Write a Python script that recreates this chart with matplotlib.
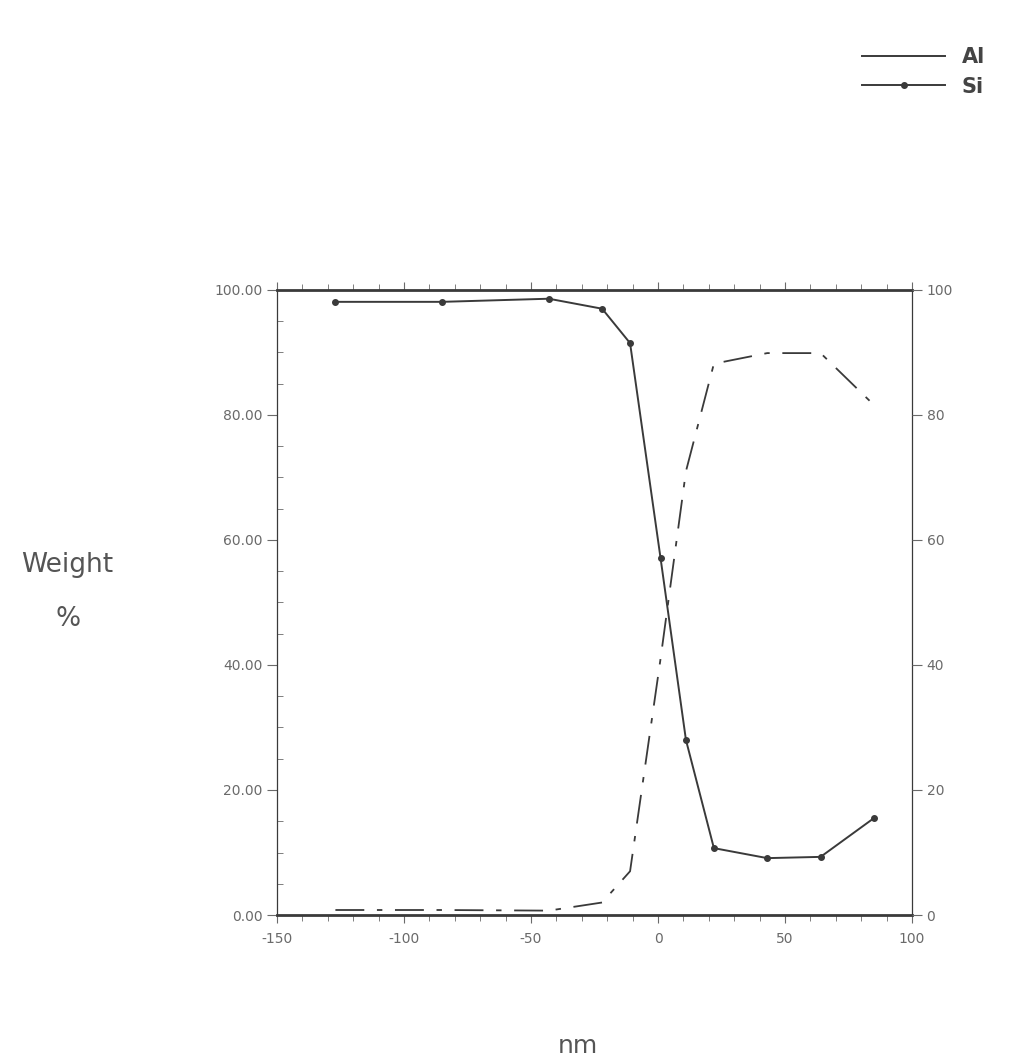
import numpy as np
import matplotlib
matplotlib.use("Agg")
import matplotlib.pyplot as plt
from matplotlib.lines import Line2D
from matplotlib.ticker import MultipleLocator, FormatStrFormatter

plt.rcParams["axes.unicode_minus"] = False

# depth positions (nm) and weight percentages read from the profile
depth_nm = [-127, -85, -43, -22, -11, 1, 11, 22, 43, 64, 85]
si_wt = [98.1, 98.1, 98.6, 97.0, 91.5, 57.1, 28.0, 10.7, 9.1, 9.3, 15.5]
al_wt = [0.8, 0.8, 0.7, 2.0, 7.0, 41.0, 71.0, 88.2, 89.9, 89.9, 81.6]

INK = "#3a3a3a"
FAINT = "#6a6a6a"

fig = plt.figure(figsize=(10.09, 10.61), dpi=100)
ax = fig.add_axes([0.2745, 0.1376, 0.6294, 0.5891])

ax.plot(depth_nm, al_wt, color=INK, lw=1.3, dashes=(16, 7, 3, 7))
ax.plot(depth_nm, si_wt, color=INK, lw=1.4, marker="o", markersize=4)

ax.set_xlim(-150, 100)
ax.set_ylim(0, 100)

for side in ["top", "bottom"]:
    ax.spines[side].set_linewidth(2.0)
    ax.spines[side].set_color(INK)
for side in ["left", "right"]:
    ax.spines[side].set_linewidth(0.9)
    ax.spines[side].set_color(INK)

ax.xaxis.set_major_locator(MultipleLocator(50))
ax.xaxis.set_minor_locator(MultipleLocator(10))
ax.yaxis.set_major_locator(MultipleLocator(20))
ax.yaxis.set_minor_locator(MultipleLocator(5))
ax.yaxis.set_major_formatter(FormatStrFormatter("%.2f"))

ax.tick_params(axis="x", which="both", top=True, direction="out", colors=FAINT,
               labelsize=10, pad=6)
ax.tick_params(axis="x", which="major", length=6)
ax.tick_params(axis="x", which="minor", length=4)
ax.tick_params(axis="y", which="major", left=True, right=False, direction="out",
               length=7, colors=FAINT, labelsize=10)
ax.tick_params(axis="y", which="minor", left=True, right=False, direction="in",
               length=4, colors=FAINT)

ax2 = ax.twinx()
ax2.set_ylim(0, 100)
ax2.yaxis.set_major_locator(MultipleLocator(20))
ax2.yaxis.set_major_formatter(FormatStrFormatter("%d"))
ax2.tick_params(axis="y", direction="out", length=7, colors=FAINT, labelsize=10)
for s in ax2.spines.values():
    s.set_visible(False)

fig.text(0.067, 0.442, "Weight\n\n%", ha="center", va="center",
         fontsize=19, color="#555555", linespacing=1.05)
fig.text(0.573, 0.003, "nm", ha="center", va="bottom", fontsize=18, color="#555555")

handles = [Line2D([], [], color=INK, lw=1.4),
           Line2D([], [], color=INK, lw=1.4, marker="o", markersize=4, markevery=[1])]
for h in handles:
    h.set_data([0, 1, 2], [0, 0, 0])
leg = fig.legend(handles, ["Al", "Si"], loc="upper right", bbox_to_anchor=(0.995, 0.973),
                 frameon=False, fontsize=15, handlelength=4.0, labelspacing=0.45,
                 handletextpad=0.8)
for t in leg.get_texts():
    t.set_color("#444444")
    t.set_fontweight("bold")

fig.savefig("out.png", dpi=100)
